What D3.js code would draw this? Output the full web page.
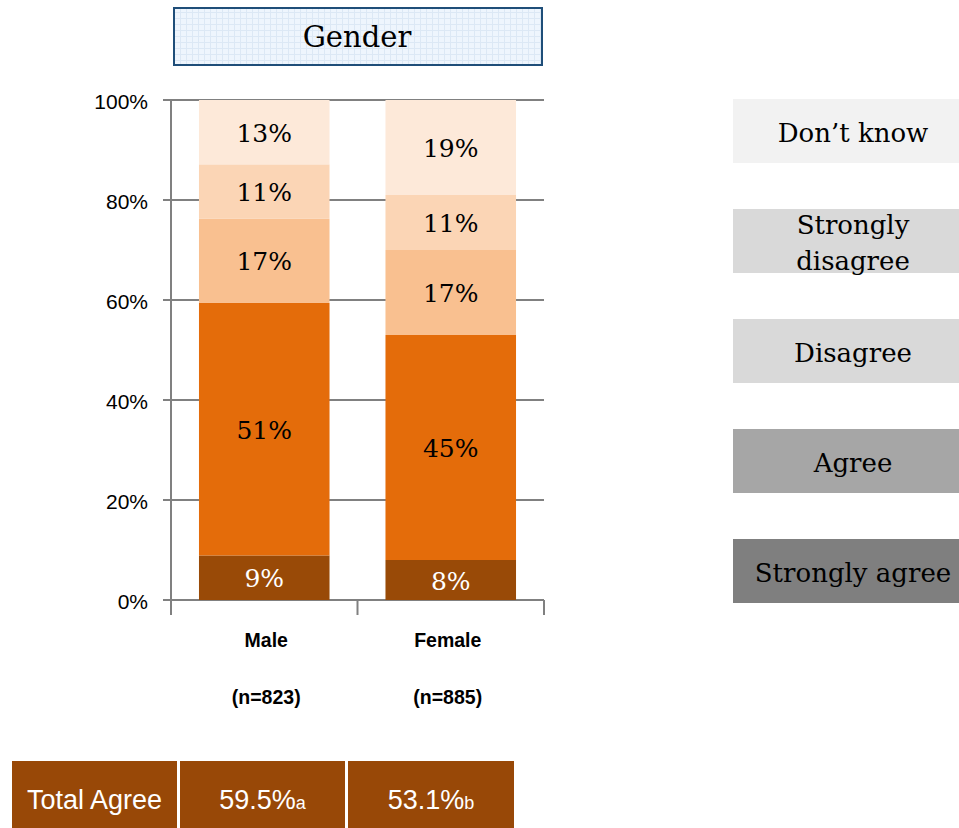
<!DOCTYPE html>
<html><head><meta charset="utf-8">
<script src="https://cdn.jsdelivr.net/npm/d3@7/dist/d3.min.js"></script>
<style>body{margin:0;background:#fff}svg{display:block}</style>
</head><body>
<script>
const categories = ["Male", "Female"];
const sampleSizes = ["(n=823)", "(n=885)"];
const seriesNames = ["Strongly agree", "Agree", "Disagree", "Strongly disagree", "Don\u2019t know"];
const maleValues = [9, 51, 17, 11, 13];
const femaleValues = [8, 45, 17, 11, 19];
const yTicks = [0, 20, 40, 60, 80, 100];
const totalAgree = ["59.5%", "53.1%"];
const totalAgreeSig = ["a", "b"];
const legendOrder = ["Don\u2019t know", "Strongly disagree", "Disagree", "Agree", "Strongly agree"];

const barColors = ["#994a07", "#e46c0a", "#f9c090", "#fbd5b5", "#fde9d9"];
const legendColors = {"Don\u2019t know":"#f2f2f2","Strongly disagree":"#d9d9d9","Disagree":"#d9d9d9","Agree":"#a6a6a6","Strongly agree":"#7f7f7f"};
const serif = "'DejaVu Serif', 'Liberation Serif', serif";
const sans = "'Liberation Sans', Arial, sans-serif";

const W = 959, H = 828;
const svg = d3.select("body").append("svg").attr("width", W).attr("height", H);

// title box
const defs = svg.append("defs");
const pat = defs.append("pattern").attr("id","grid").attr("width",6).attr("height",6).attr("patternUnits","userSpaceOnUse");
pat.append("rect").attr("width",6).attr("height",6).attr("fill","#eef5fd");
pat.append("path").attr("d","M0 0.5H6M0.5 0V6").attr("stroke","#dce8f5").attr("stroke-width",1);
svg.append("rect").attr("x",174).attr("y",8).attr("width",368).attr("height",57)
  .attr("fill","url(#grid)").attr("stroke","#1f4e79").attr("stroke-width",2);
svg.append("text").attr("x",357).attr("y",37).attr("text-anchor","middle").attr("dominant-baseline","central")
  .attr("font-family",serif).attr("font-size",29).attr("fill","#000").text("Gender");

// scales
const x = d3.scaleBand().domain(categories).range([171, 544]).paddingInner(0.3).paddingOuter(0.15);
const y = d3.scaleLinear().domain([0, 100]).range([600, 100]);

// gridlines
const g = svg.append("g");
g.selectAll("line.grid").data(yTicks).join("line")
  .attr("x1",163).attr("x2",544).attr("y1",d=>y(d)).attr("y2",d=>y(d))
  .attr("stroke","#808080").attr("stroke-width",2);
g.append("line").attr("x1",171).attr("x2",171).attr("y1",100).attr("y2",615).attr("stroke","#808080").attr("stroke-width",2);
[357.5, 544].forEach(v=>g.append("line").attr("x1",v).attr("x2",v).attr("y1",600).attr("y2",615).attr("stroke","#808080").attr("stroke-width",2));

// y labels
g.selectAll("text.yl").data(yTicks).join("text")
  .attr("x",148).attr("y",d=>y(d)+1).attr("text-anchor","end").attr("dominant-baseline","central")
  .attr("font-family",sans).attr("font-size",21).attr("fill","#000").text(d=>d+"%");

// stacked bars
const data = [maleValues, femaleValues];
const labelShift = [2, -3];
data.forEach((vals, i) => {
  const total = d3.sum(vals);
  let acc = 0;
  vals.forEach((v, j) => {
    const y0 = acc / total * 100, y1 = (acc + v) / total * 100;
    acc += v;
    svg.append("rect").attr("x", x(categories[i])).attr("width", x.bandwidth())
      .attr("y", y(y1)).attr("height", y(y0) - y(y1)).attr("fill", barColors[j]);
    svg.append("text").attr("x", x(categories[i]) + x.bandwidth()/2).attr("y", (y(y0)+y(y1))/2 + 1)
      .attr("text-anchor","middle").attr("dominant-baseline","central")
      .attr("font-family",serif).attr("font-size",25).attr("fill", j===0 ? "#fff" : "#000")
      .text(v + "%");
  });
  svg.append("text").attr("x", x(categories[i]) + x.bandwidth()/2 + labelShift[i]).attr("y", 640)
    .attr("text-anchor","middle").attr("dominant-baseline","central")
    .attr("font-family",sans).attr("font-weight","bold").attr("font-size",19.5).attr("fill","#000").text(categories[i]);
  svg.append("text").attr("x", x(categories[i]) + x.bandwidth()/2 + labelShift[i]).attr("y", 697)
    .attr("text-anchor","middle").attr("dominant-baseline","central")
    .attr("font-family",sans).attr("font-weight","bold").attr("font-size",19.5).attr("fill","#000").text(sampleSizes[i]);
});

// legend
const ly = d3.scalePoint().domain(legendOrder).range([99, 539]);
legendOrder.forEach(name => {
  svg.append("rect").attr("x",733).attr("y",ly(name)).attr("width",226).attr("height",64).attr("fill",legendColors[name]);
  const words = name === "Strongly disagree" ? ["Strongly","disagree"] : [name];
  words.forEach((w, k) => {
    svg.append("text").attr("x",853).attr("y", ly(name) + 34 + (words.length===2 ? (k-0.5)*36 : 0))
      .attr("text-anchor","middle").attr("dominant-baseline","central")
      .attr("font-family",serif).attr("font-size",26).attr("fill","#000").text(w);
  });
});

// total agree table
const cells = [{x:12,w:165,t:"Total Agree",s:""},{x:180,w:165,t:totalAgree[0],s:totalAgreeSig[0]},{x:348,w:166,t:totalAgree[1],s:totalAgreeSig[1]}];
cells.forEach(c => {
  svg.append("rect").attr("x",c.x).attr("y",761).attr("width",c.w).attr("height",67).attr("fill","#984807");
  const t = svg.append("text").attr("x",c.x + c.w/2).attr("y",800).attr("text-anchor","middle").attr("dominant-baseline","central")
    .attr("font-family",sans).attr("font-size",27).attr("fill","#fff");
  t.append("tspan").text(c.t);
  if (c.s) t.append("tspan").attr("font-size",18).attr("dy",3).text(c.s);
});
</script>
</body></html>
